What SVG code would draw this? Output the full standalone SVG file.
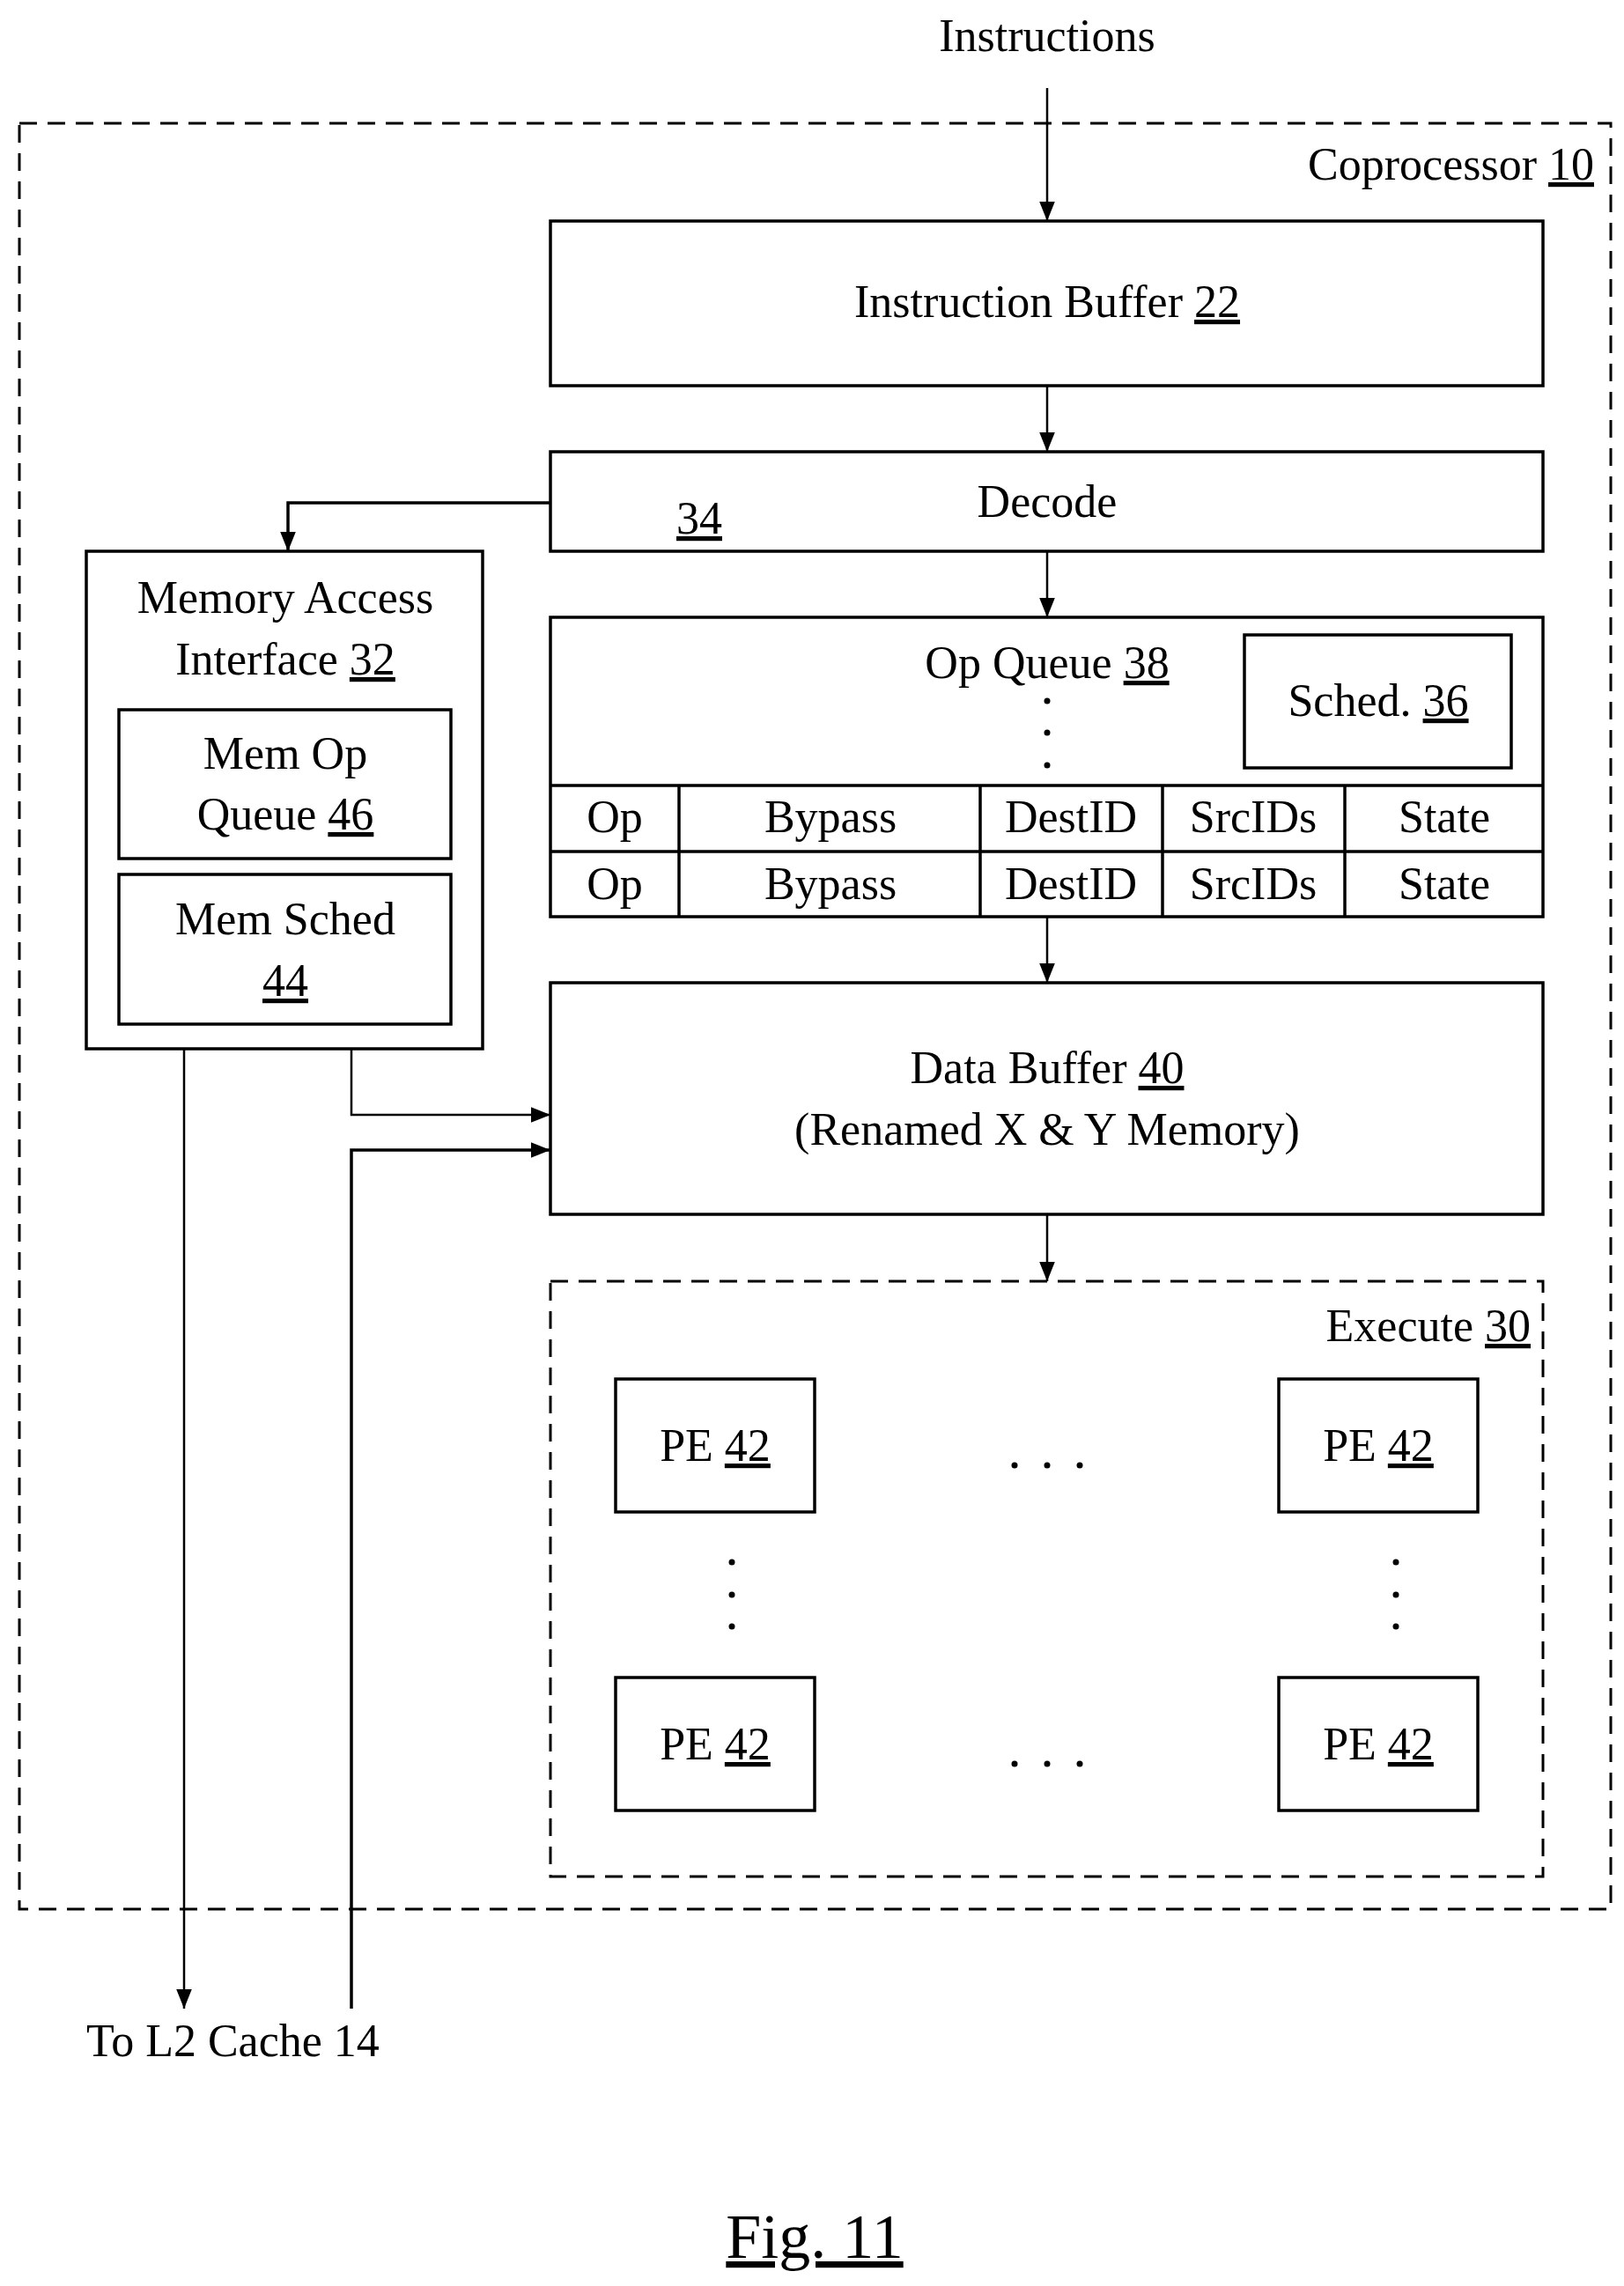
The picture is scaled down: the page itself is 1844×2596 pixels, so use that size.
<svg xmlns="http://www.w3.org/2000/svg" width="1844" height="2596" viewBox="0 0 1844 2596">
<style>
text{font-family:"Liberation Serif","Times New Roman",serif;font-size:52px;fill:#000}
.c{text-anchor:middle}.r{text-anchor:end}
.u{text-decoration:underline}
.box{fill:#fff;stroke:#000;stroke-width:3.5}
.dash{fill:none;stroke:#000;stroke-width:3;stroke-dasharray:20 12}
.w{fill:none;stroke:#000;stroke-width:3.5}
.t{fill:none;stroke:#000;stroke-width:2.5}
</style>
<defs>
<marker id="a" viewBox="0 0 10 10" refX="10" refY="5" markerWidth="22" markerHeight="22" markerUnits="userSpaceOnUse" orient="auto"><path d="M0,1 L10,5 L0,9 Z" fill="#000"/></marker>
</defs>
<g id="coprocessor"><rect class="dash" x="22" y="140" width="1807" height="2028"/><text class="r" x="1810" y="204">Coprocessor <tspan class="u">10</tspan></text></g>
<text class="c" x="1189" y="58">Instructions</text>
<g id="ibuf"><rect class="box" x="625" y="251" width="1127" height="187"/><text class="c" x="1189" y="360">Instruction Buffer <tspan class="u">22</tspan></text></g>
<g id="decode"><rect class="box" x="625" y="513" width="1127" height="113"/><text class="c" x="1189" y="587">Decode</text><text class="c u" x="794" y="606">34</text></g>
<g id="mai"><rect class="box" x="98" y="626" width="450" height="565"/><text class="c" x="324" y="696">Memory Access</text><text class="c" x="324" y="766">Interface <tspan class="u">32</tspan></text>
<rect class="box" x="135" y="806" width="377" height="169"/><text class="c" x="324" y="873">Mem Op</text><text class="c" x="324" y="942">Queue <tspan class="u">46</tspan></text>
<rect class="box" x="135" y="993" width="377" height="170"/><text class="c" x="324" y="1061">Mem Sched</text><text class="c u" x="324" y="1131">44</text></g>
<g id="opqueue"><rect class="box" x="625" y="701" width="1127" height="340"/><text class="c" x="1189" y="770">Op Queue <tspan class="u">38</tspan></text>
<circle cx="1189" cy="796" r="3.5"/><circle cx="1189" cy="832" r="3.5"/><circle cx="1189" cy="869" r="3.5"/>
<path class="w" d="M625 892H1752M625 967H1752M771 892V1041M1113 892V1041M1320 892V1041M1527 892V1041"/>
<text class="c" x="698" y="945">Op</text><text class="c" x="943" y="945">Bypass</text><text class="c" x="1216" y="945">DestID</text><text class="c" x="1423" y="945">SrcIDs</text><text class="c" x="1640" y="945">State</text>
<text class="c" x="698" y="1021">Op</text><text class="c" x="943" y="1021">Bypass</text><text class="c" x="1216" y="1021">DestID</text><text class="c" x="1423" y="1021">SrcIDs</text><text class="c" x="1640" y="1021">State</text></g>
<g id="sched"><rect class="box" x="1413" y="721" width="303" height="151"/><text class="c" x="1565" y="813">Sched. <tspan class="u">36</tspan></text></g>
<g id="dbuf"><rect class="box" x="625" y="1116" width="1127" height="263"/><text class="c" x="1189" y="1230">Data Buffer <tspan class="u">40</tspan></text><text class="c" x="1189" y="1300">(Renamed X &amp; Y Memory)</text></g>
<g id="execute"><rect class="dash" x="625" y="1455" width="1127" height="676"/><text class="r" x="1738" y="1523">Execute <tspan class="u">30</tspan></text>
<rect class="box" x="699" y="1566" width="226" height="151"/><text class="c" x="812" y="1659">PE <tspan class="u">42</tspan></text>
<rect class="box" x="1452" y="1566" width="226" height="151"/><text class="c" x="1565" y="1659">PE <tspan class="u">42</tspan></text>
<rect class="box" x="699" y="1905" width="226" height="151"/><text class="c" x="812" y="1998">PE <tspan class="u">42</tspan></text>
<rect class="box" x="1452" y="1905" width="226" height="151"/><text class="c" x="1565" y="1998">PE <tspan class="u">42</tspan></text>
<g fill="#000"><circle cx="1152" cy="1664" r="3.5"/><circle cx="1189" cy="1664" r="3.5"/><circle cx="1226" cy="1664" r="3.5"/>
<circle cx="1152" cy="2003" r="3.5"/><circle cx="1189" cy="2003" r="3.5"/><circle cx="1226" cy="2003" r="3.5"/>
<circle cx="831" cy="1774" r="3.5"/><circle cx="831" cy="1811" r="3.5"/><circle cx="831" cy="1847" r="3.5"/>
<circle cx="1585" cy="1774" r="3.5"/><circle cx="1585" cy="1811" r="3.5"/><circle cx="1585" cy="1847" r="3.5"/></g></g>
<g id="connectors">
<path class="t" d="M1189 100V251" marker-end="url(#a)"/>
<path class="t" d="M1189 438V513" marker-end="url(#a)"/>
<path class="w" d="M625 571H327V626" marker-end="url(#a)"/>
<path class="t" d="M1189 626V701" marker-end="url(#a)"/>
<path class="t" d="M1189 1041V1116" marker-end="url(#a)"/>
<path class="t" d="M1189 1379V1455" marker-end="url(#a)"/>
<path class="t" d="M399 1191V1266H625" marker-end="url(#a)"/>
<path class="w" d="M399 2281V1306H625" marker-end="url(#a)"/>
<path class="t" d="M209 1191V2281" marker-end="url(#a)"/>
</g>
<text x="98" y="2335">To L2 Cache 14</text>
<text class="c u" x="925" y="2564" style="font-size:72px">Fig. 11</text>
</svg>
